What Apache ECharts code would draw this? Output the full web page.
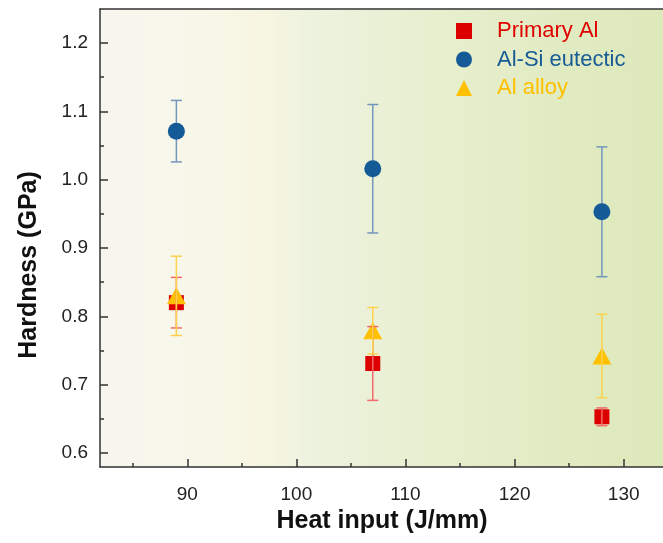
<!DOCTYPE html>
<html>
<head>
<meta charset="utf-8">
<script src="https://cdn.jsdelivr.net/npm/echarts@6/dist/echarts.min.js"></script>
<style>
html,body{margin:0;padding:0;background:#ffffff;}
#chart{width:663px;height:543px;}
</style>
</head>
<body>
<div id="chart"></div>
<script>
// ---- data ----
const heatInput = [89, 107, 128];
const primaryAl = [0.820, 0.731, 0.653];
const primaryAlErr = [0.037, 0.054, 0.013];
const alSiEutectic = [1.071, 1.016, 0.953];
const alSiEutecticErr = [0.045, 0.094, 0.095];
const alAlloy = [0.830, 0.779, 0.742];
const alAlloyErr = [0.058, 0.034, 0.061];
const xTickLabels = [90, 100, 110, 120, 130];
const xMinorTicks = [85, 95, 105, 115, 125];
const yTickLabels = [0.6, 0.7, 0.8, 0.9, 1.0, 1.1, 1.2];
const yMinorTicks = [0.65, 0.75, 0.85, 0.95, 1.05, 1.15];
const seriesNames = ['Primary Al', 'Al-Si eutectic', 'Al alloy'];
const xTitle = 'Heat input (J/mm)';
const yTitle = 'Hardness (GPa)';

const chart = echarts.init(document.getElementById('chart'));
const FONT = '"Liberation Sans", Arial, sans-serif';
const X_MIN = 82, X_MAX = 133.6, Y_MIN = 0.5795, Y_MAX = 1.2498;

function pts(means) { return heatInput.map((x, i) => [x, means[i]]); }
function errData(means, errs) { return heatInput.map((x, i) => [x, means[i] - errs[i], means[i] + errs[i]]); }
function errRender(color) {
  return function (params, api) {
    const x = api.value(0);
    const pLo = api.coord([x, api.value(1)]);
    const pHi = api.coord([x, api.value(2)]);
    const hw = 5.5;
    const st = { stroke: color, lineWidth: 1.5 };
    return {
      type: 'group',
      children: [
        { type: 'line', shape: { x1: pLo[0], y1: pLo[1], x2: pHi[0], y2: pHi[1] }, style: st },
        { type: 'line', shape: { x1: pHi[0] - hw, y1: pHi[1], x2: pHi[0] + hw, y2: pHi[1] }, style: st },
        { type: 'line', shape: { x1: pLo[0] - hw, y1: pLo[1], x2: pLo[0] + hw, y2: pLo[1] }, style: st }
      ]
    };
  };
}

const axisCommon = { type: 'value', splitLine: { show: false } };

const option = {
  backgroundColor: '#ffffff',
  animation: false,
  grid: {
    left: 100, top: 9, right: 0, bottom: 76,
    show: true, borderWidth: 0,
    backgroundColor: new echarts.graphic.LinearGradient(0, 0, 1, 0, [
      { offset: 0.00, color: '#f6f6ee' },
      { offset: 0.11, color: '#f7f7ec' },
      { offset: 0.23, color: '#f8f6e5' },
      { offset: 0.30, color: '#f6f5e0' },
      { offset: 0.36, color: '#eef3e0' },
      { offset: 0.53, color: '#e9f0d3' },
      { offset: 0.71, color: '#e4edc8' },
      { offset: 0.89, color: '#dfeabf' },
      { offset: 1.00, color: '#dde9bb' }
    ])
  },
  graphic: [
    {
      type: 'text', x: 29, y: 265, rotation: Math.PI / 2,
      style: { text: yTitle, fontFamily: FONT, fontSize: 25, fontWeight: 'bold', fill: '#111',
        align: 'center', verticalAlign: 'middle' }
    },
    {
      type: 'text', x: 382, y: 521,
      style: { text: xTitle, fontFamily: FONT, fontSize: 25, fontWeight: 'bold', fill: '#111',
        align: 'center', verticalAlign: 'middle' }
    }
  ],
  legend: {
    orient: 'vertical',
    left: 451, top: 15,
    itemWidth: 16, itemHeight: 16, itemGap: 6.5,
    data: [
      { name: seriesNames[0], textStyle: { color: '#e00000' } },
      { name: seriesNames[1], textStyle: { color: '#165a96' } },
      { name: seriesNames[2], textStyle: { color: '#ffc000' } }
    ],
    textStyle: { fontFamily: FONT, fontSize: 22, lineHeight: 20, padding: [0, 0, 0, 20] }
  },
  xAxis: [
    Object.assign({}, axisCommon, {
      position: 'bottom', min: X_MIN, max: X_MAX,
      axisLine: { show: true, lineStyle: { color: '#333', width: 1.5 } },
      axisTick: { show: true, inside: true, length: 8, customValues: xTickLabels, lineStyle: { color: '#333', width: 1.5 } },
      axisLabel: { show: true, customValues: xTickLabels, margin: 18, fontFamily: FONT, fontSize: 19, color: '#222' }
    }),
    Object.assign({}, axisCommon, {
      position: 'bottom', min: X_MIN, max: X_MAX,
      axisLine: { show: false },
      axisTick: { show: true, inside: true, length: 4, customValues: xMinorTicks, lineStyle: { color: '#333', width: 1.5 } },
      axisLabel: { show: false }
    }),
    Object.assign({}, axisCommon, {
      position: 'top', min: X_MIN, max: X_MAX,
      axisLine: { show: true, lineStyle: { color: '#333', width: 1.5 } },
      axisTick: { show: false },
      axisLabel: { show: false }
    })
  ],
  yAxis: [
    Object.assign({}, axisCommon, {
      position: 'left', min: Y_MIN, max: Y_MAX,
      axisLine: { show: true, lineStyle: { color: '#333', width: 1.5 } },
      axisTick: { show: true, inside: true, length: 8, customValues: yTickLabels, lineStyle: { color: '#333', width: 1.5 } },
      axisLabel: { show: true, customValues: yTickLabels, margin: 12, fontFamily: FONT, fontSize: 19, color: '#222',
        formatter: v => v.toFixed(1) }
    }),
    Object.assign({}, axisCommon, {
      position: 'left', min: Y_MIN, max: Y_MAX,
      axisLine: { show: false },
      axisTick: { show: true, inside: true, length: 4, customValues: yMinorTicks, lineStyle: { color: '#333', width: 1.5 } },
      axisLabel: { show: false }
    })
  ],
  series: [
    {
      name: seriesNames[1] + ' err', type: 'custom', z: 1,
      renderItem: errRender('#7496bb'), data: errData(alSiEutectic, alSiEutecticErr),
      encode: { x: 0, y: [1, 2] }, silent: true
    },
    {
      name: seriesNames[1], type: 'scatter', z: 2, symbol: 'circle', symbolSize: 17,
      itemStyle: { color: '#135a97', opacity: 1 }, data: pts(alSiEutectic)
    },
    {
      name: seriesNames[0], type: 'scatter', z: 2, symbol: 'rect', symbolSize: 15,
      itemStyle: { color: '#dd0000', opacity: 1 }, data: pts(primaryAl)
    },
    {
      name: seriesNames[2], type: 'scatter', z: 3, symbol: 'triangle', symbolSize: [19, 17],
      itemStyle: { color: '#ffc000', opacity: 1 }, data: pts(alAlloy)
    },
    {
      name: seriesNames[0] + ' err', type: 'custom', z: 4,
      renderItem: errRender('#f06a6a'), data: errData(primaryAl, primaryAlErr),
      encode: { x: 0, y: [1, 2] }, silent: true
    },
    {
      name: seriesNames[2] + ' err', type: 'custom', z: 4,
      renderItem: errRender('#ffd24d'), data: errData(alAlloy, alAlloyErr),
      encode: { x: 0, y: [1, 2] }, silent: true
    }
  ]
};
chart.setOption(option);
</script>
</body>
</html>
